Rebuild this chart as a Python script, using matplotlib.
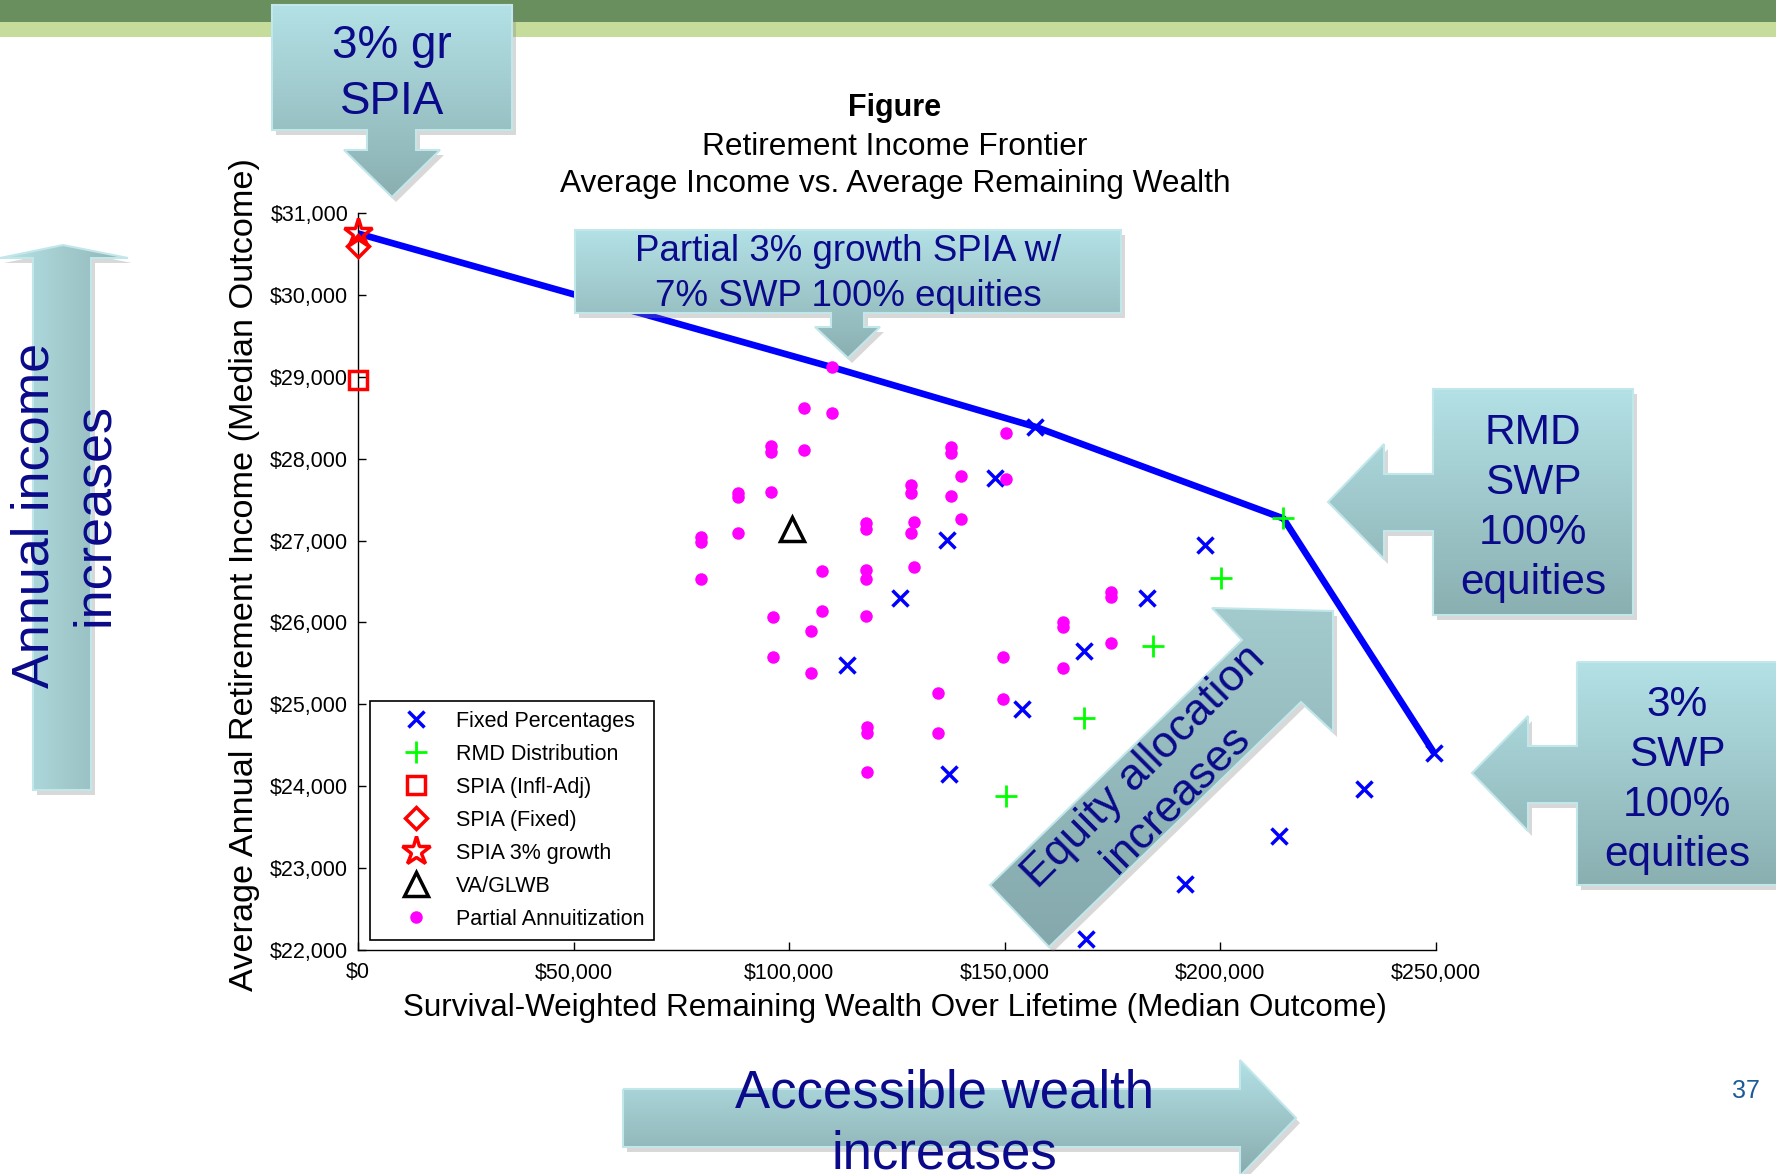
import numpy as np
import matplotlib
matplotlib.use("Agg")
import matplotlib.pyplot as plt
from matplotlib.patches import Polygon, Rectangle
from matplotlib.colors import to_rgb
from matplotlib.ticker import FuncFormatter

plt.rcParams["font.family"] = ["Liberation Sans", "DejaVu Sans"]

# ---- dados ----
fixed_x = [157000, 147800, 136700, 125800, 113400, 196500, 183000, 168400,
           154000, 137000, 168800, 191900, 213700, 233200, 249500]
fixed_y = [28390, 27770, 27010, 26300, 25480, 26950, 26300, 25650,
           24940, 24150, 22140, 22800, 23390, 23960, 24410]

rmd_x = [214600, 200200, 184400, 168400, 150300]
rmd_y = [27270, 26540, 25710, 24830, 23880]

spia_infl_x, spia_infl_y = [0], [28960]
spia_fixed_x, spia_fixed_y = [0], [30600]
spia_3g_x, spia_3g_y = [0], [30750]
va_x, va_y = [100600], [27140]

partial_x = [110000, 103500, 110000, 95800, 95800, 103500, 137500, 137500,
             150300, 139800, 150300, 88100, 88100, 95800, 128200, 128200,
             137500, 139800, 79600, 79600, 88100, 117800, 117800, 129000,
             128200, 79600, 107700, 117800, 117800, 129000, 96200, 107700,
             117800, 105000, 96200, 105000, 149500, 134400, 149500, 174600,
             174600, 163500, 163500, 174600, 163500, 134400, 118100, 118100,
             118100]
partial_y = [29116, 28620, 28558, 28155, 28085, 28106, 28147, 28066,
             28310, 27790, 27750, 27585, 27536, 27590, 27680, 27578,
             27545, 27264, 27048, 26979, 27089, 27211, 27145, 27231,
             27089, 26531, 26633, 26641, 26531, 26681, 26071, 26144,
             26079, 25896, 25582, 25387, 25575, 25136, 25070, 26370,
             26305, 26000, 25945, 25754, 25440, 24647, 24720, 24650,
             24178]

frontier_x = [0, 110000, 157000, 214600, 249500]
frontier_y = [30750, 29116, 28390, 27270, 24410]

W, H = 1776, 1174
NAVY = "#0a0a8a"

fig = plt.figure(figsize=(W / 100, H / 100), dpi=100)
fig.patch.set_facecolor("white")


def px_rect(x0, y0, x1, y1):
    return [x0 / W, 1 - y1 / H, (x1 - x0) / W, (y1 - y0) / H]


# ---- gráfico principal ----
ax = fig.add_axes(px_rect(358, 213, 1436, 950))
ax.set_xlim(0, 250000)
ax.set_ylim(22000, 31000)

ax.plot(frontier_x, frontier_y, color="#0000ff", lw=4.8, zorder=2,
        solid_capstyle="butt")

ax.plot(fixed_x, fixed_y, ls="none", marker="x", ms=11, mew=2.5,
        color="#0000ff", label="Fixed Percentages", zorder=3, clip_on=False)
ax.plot(rmd_x, rmd_y, ls="none", marker="+", ms=16, mew=2,
        color="#00ff00", label="RMD Distribution", zorder=3)
ax.plot(spia_infl_x, spia_infl_y, ls="none", marker="s", ms=13, mew=2.5,
        mfc="none", color="#ff0000", label="SPIA (Infl-Adj)", zorder=3,
        clip_on=False)
ax.plot(spia_fixed_x, spia_fixed_y, ls="none", marker="D", ms=11, mew=2.5,
        mfc="none", color="#ff0000", label="SPIA (Fixed)", zorder=3,
        clip_on=False)
ax.plot(spia_3g_x, spia_3g_y, ls="none", marker="*", ms=21, mew=2.5,
        mfc="none", color="#ff0000", label="SPIA 3% growth", zorder=4,
        clip_on=False)
ax.plot(va_x, va_y, ls="none", marker="^", ms=17, mew=2.5, mfc="none",
        color="black", label="VA/GLWB", zorder=3)
ax.plot(partial_x, partial_y, ls="none", marker="o", ms=9, mew=0,
        color="#ff00ff", label="Partial Annuitization", zorder=3)

for s in ["top", "right"]:
    ax.spines[s].set_visible(False)
for s in ["left", "bottom"]:
    ax.spines[s].set_linewidth(1)

ax.set_xticks(np.arange(0, 250001, 50000))
ax.set_yticks(np.arange(22000, 31001, 1000))
fmt = FuncFormatter(lambda v, _: f"${v:,.0f}")
ax.xaxis.set_major_formatter(fmt)
ax.yaxis.set_major_formatter(fmt)
ax.tick_params(direction="in", length=6, width=1, labelsize=15.5)
ax.tick_params(axis="y", pad=7)
ax.tick_params(axis="x", pad=9)

ax.set_xlabel("Survival-Weighted Remaining Wealth Over Lifetime (Median Outcome)",
              fontsize=22.6)
ax.xaxis.label.set_va("center")
ax.xaxis.set_label_coords((895 - 358) / 1078, (950 - 1008) / 737)
ax.set_ylabel("Average Annual Retirement Income (Median Outcome)", fontsize=24.7)
ax.yaxis.label.set_va("center")
ax.yaxis.set_label_coords((245 - 358) / 1078, (950 - 575) / 737)

leg = ax.legend(loc="upper left", bbox_to_anchor=(370 / W, 1 - 701 / H),
                bbox_transform=fig.transFigure, fontsize=15.5, frameon=True,
                fancybox=False, edgecolor="black", framealpha=1,
                borderpad=0.45, handlelength=3.4, handletextpad=0.15,
                labelspacing=0.56, borderaxespad=0, numpoints=1)
leg.get_frame().set_linewidth(1.2)

# ---- camada de anotações (pixels) ----
ov = fig.add_axes([0, 0, 1, 1], zorder=5)
ov.patch.set_visible(False)
ov.axis("off")


def forma_gradiente(verts, c0, c1, horizontal=False, z=6, sombra=True):
    verts = np.array(verts, dtype=float)
    if sombra:
        ov.add_patch(Polygon(verts + [4, 5], closed=True, fc="#808080",
                             ec="none", alpha=0.3, zorder=z - 1))
    poly = Polygon(verts, closed=True, fc="none", ec="#c2e7ea", lw=1.5,
                   zorder=z + 1)
    ov.add_patch(poly)
    x0, y0 = verts.min(0)
    x1, y1 = verts.max(0)
    t = np.linspace(0, 1, 256)[:, None]
    cols = np.array(to_rgb(c0))[None, :] * (1 - t) + np.array(to_rgb(c1))[None, :] * t
    img = cols[None, :, :] if horizontal else cols[:, None, :]
    im = ov.imshow(img, extent=(x0, x1, y1, y0), origin="upper",
                   aspect="auto", zorder=z, interpolation="bilinear")
    im.set_clip_path(poly)


# barras verdes do slide
ov.add_patch(Rectangle((0, 0), W, 22, fc="#6a8f5f", ec="none", zorder=1))
ov.add_patch(Rectangle((0, 22), W, 15, fc="#c5dc9b", ec="none", zorder=1))

TOPO, BASE = "#b3e1e6", "#8aafb1"

forma_gradiente([(272, 5), (512, 5), (512, 130), (416, 130), (416, 150),
                 (440, 150), (392, 197), (344, 150), (367, 150), (367, 130),
                 (272, 130)], TOPO, BASE)
ov.text(392, 74, "3% gr\nSPIA", fontsize=33, color=NAVY, ha="center",
        va="center", linespacing=1.38, zorder=10)

forma_gradiente([(575, 230), (1121, 230), (1121, 313), (864, 313),
                 (864, 327), (880, 327), (848, 358), (815, 327), (831, 327),
                 (831, 313), (575, 313)], TOPO, BASE)
ov.text(848, 274, "Partial 3% growth SPIA w/\n7% SWP 100% equities",
        fontsize=26.5, color=NAVY, ha="center", va="center",
        linespacing=1.38, zorder=10)

forma_gradiente([(1433, 389), (1633, 389), (1633, 615), (1433, 615),
                 (1433, 531), (1384, 531), (1384, 559), (1328, 502),
                 (1384, 444), (1384, 474), (1433, 474)], TOPO, BASE)
ov.text(1533, 508, "RMD\nSWP\n100%\nequities", fontsize=30.5, color=NAVY,
        ha="center", va="center", linespacing=1.33, zorder=10)

forma_gradiente([(1577, 662), (1790, 662), (1790, 885), (1577, 885),
                 (1577, 803), (1528, 803), (1528, 831), (1472, 773),
                 (1528, 716), (1528, 746), (1577, 746)], TOPO, BASE)
ov.text(1677, 780, "3%\nSWP\n100%\nequities", fontsize=30.5, color=NAVY,
        ha="center", va="center", linespacing=1.33, zorder=10)

forma_gradiente([(33, 790), (33, 258), (0, 258), (63, 245), (128, 258),
                 (91, 258), (91, 790)], "#b6e3e7", "#8fb3b5",
                horizontal=True)
ov.text(65, 515, "Annual income\nincreases", fontsize=37.5, color=NAVY,
        ha="center", va="center", rotation=90, linespacing=1.28, zorder=10)

forma_gradiente([(623, 1089), (1240, 1089), (1240, 1060), (1296, 1118),
                 (1240, 1176), (1240, 1147), (623, 1147)], TOPO, "#88abad")
ov.text(944, 1124, "Accessible wealth\nincreases", fontsize=38, color=NAVY,
        ha="center", va="center", linespacing=1.3, zorder=10)

forma_gradiente([(990, 885), (1242, 640), (1212, 608), (1333, 611),
                 (1333, 732), (1301, 702), (1049, 947)], "#a3cacd",
                "#84a8ab")
ov.text(1160, 783, "Equity allocation\nincreases", fontsize=32, color=NAVY,
        ha="center", va="center", rotation=45, linespacing=1.15, zorder=10)

# título
ov.text(895, 108, "Figure", fontsize=22, fontweight="bold", ha="center",
        va="center", zorder=10)
ov.text(895, 147, "Retirement Income Frontier", fontsize=22.8, ha="center",
        va="center", zorder=10)
ov.text(895, 184, "Average Income vs. Average Remaining Wealth", fontsize=22.8,
        ha="center", va="center", zorder=10)

ov.text(1746, 1091, "37", fontsize=18, color="#1c5a96", ha="center",
        va="center", zorder=10)

ov.set_xlim(0, W)
ov.set_ylim(H, 0)

fig.savefig("out.png", dpi=100)
